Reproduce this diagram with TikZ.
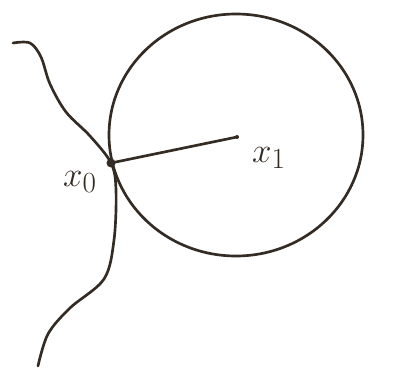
\documentclass[tikz,border=0pt]{standalone}
\usepackage{tikz}
\definecolor{pencil}{RGB}{52,44,36}
\begin{document}
\begin{tikzpicture} [x = 0.25mm, y = -0.25mm, pencil, line width = 1.9pt, line cap = round, line join = round]
	\useasboundingbox (0,0) rectangle (393,376);
	\coordinate (x0) at (111,163);
	\coordinate (x1) at (237,137);
	%the ball around x1
	\draw (236,135) ellipse (127 and 121);
	%the boundary curve through x0
	\draw plot [smooth, tension = 0.55] coordinates {(13,43) (30,43) (41,57) (50,84) (66,112) (90,136) (x0) (116,190) (114,240) (104,279) (70,308) (48,334) (38,366)};
	\draw (x0) -- (x1);
	\fill (x0) circle (4.5);
	\fill (x1) circle (2);
	\node (lab0) at (80,182) {\Huge $x_0$};
	\node (lab1) at (269,158) {\Huge $x_1$};
\end{tikzpicture}
\end{document}
